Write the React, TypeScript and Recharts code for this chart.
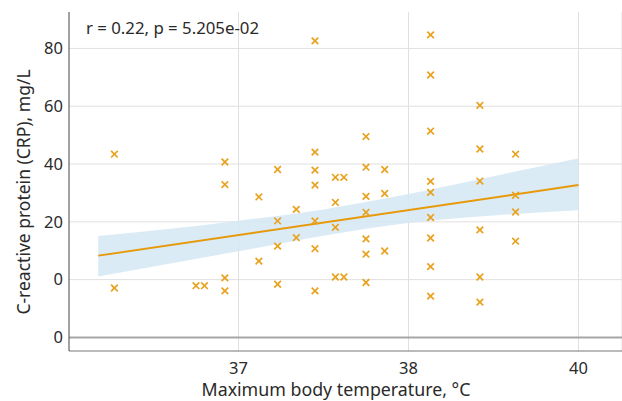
import { ComposedChart, Scatter, Line, Area, XAxis, YAxis, CartesianGrid, ReferenceLine } from 'recharts';

// temperature groups (display units) and CRP readings at each one
const tempLevels = [36.27, 36.75, 36.8, 36.92, 37.12, 37.23, 37.34, 37.45, 37.57, 37.62, 37.75, 37.86, 38.13, 38.42, 38.63];
const crpValues = [
  [43.4, -2.9],
  [-2.1],
  [-2.1],
  [40.7, 32.9, 0.6, -3.9],
  [28.6, 6.4],
  [38.1, 20.3, 11.6, -1.6],
  [24.3, 14.5],
  [82.6, 44.1, 37.9, 32.7, 20.3, 10.7, -3.9],
  [35.4, 26.7, 18.1, 0.9],
  [35.4, 0.9],
  [49.5, 38.9, 28.8, 23.3, 14.1, 8.8, -1.0],
  [38.1, 29.8, 9.9],
  [84.7, 70.8, 51.4, 34.0, 30.2, 21.5, 14.4, 4.5, -5.7],
  [60.3, 45.2, 34.1, 17.2, 0.9, -7.8],
  [43.4, 29.2, 23.4, 13.3],
];

const fitTemps = [36.175, 39];
const fitValues = [8.3, 32.7];

const bandTemps = [36.175, 36.6, 37, 37.5, 38, 38.5, 39];
const bandLower = [1.1, 5.6, 9.8, 15.2, 19.6, 22.2, 24.0];
const bandUpper = [15.1, 17.6, 20.4, 24.3, 29.6, 35.8, 42.0];

const xTicks = [37, 38, 39];
const xTickLabels = ['37', '38', '40'];
const yTicks = [-20, 0, 20, 40, 60, 80];
const yTickLabels = ['0', '0', '20', '40', '60', '80'];

const points = tempLevels.flatMap((t, i) => crpValues[i].map(v => ({ temp: t, crp: v })));
const fitData = fitTemps.map((t, i) => ({ temp: t, fit: fitValues[i] }));
const bandData = bandTemps.map((t, i) => ({ temp: t, range: [bandLower[i], bandUpper[i]] }));

const FONT = '"Noto Sans", sans-serif';
const ORANGE = '#E9A21F';

const Cross = (props: any) => {
  const { cx, cy } = props;
  const s = 3.3;
  return (
    <g stroke={ORANGE} strokeWidth={1.7}>
      <line x1={cx - s} y1={cy - s} x2={cx + s} y2={cy + s} />
      <line x1={cx - s} y1={cy + s} x2={cx + s} y2={cy - s} />
    </g>
  );
};

export default function App() {
  return (
    <div style={{ position: 'absolute', left: 0, top: 0, width: 622, height: 401, background: '#fff', fontFamily: FONT }}>
      <ComposedChart width={622} height={401} margin={{ top: 12, right: 0, left: 0, bottom: 0 }}>
        <CartesianGrid stroke="#e0e0e0" horizontalValues={[0, 20, 40, 60, 80]} />
        <XAxis
          type="number"
          dataKey="temp"
          domain={[36.003, 39.256]}
          ticks={xTicks}
          tickFormatter={(v: number) => xTickLabels[xTicks.indexOf(v)]}
          height={50}
          tickLine={false}
          tickMargin={5}
          stroke="#777"
          tick={{ fill: '#2a2a2a', fontSize: 16.5, fontFamily: FONT }}
          allowDataOverflow
        />
        <YAxis
          type="number"
          domain={[-24.7, 92.6]}
          ticks={yTicks}
          tickFormatter={(v: number) => yTickLabels[yTicks.indexOf(v)]}
          width={69}
          tickLine={false}
          tickSize={2}
          tickMargin={4}
          stroke="#555"
          tick={{ fill: '#2a2a2a', fontSize: 16.5, fontFamily: FONT }}
          allowDataOverflow
        />
        <ReferenceLine y={-20} stroke="#a6a6a6" strokeWidth={2} />
        <Area
          data={bandData}
          dataKey="range"
          type="monotone"
          stroke="none"
          fill="#D5E7F4"
          fillOpacity={0.85}
          isAnimationActive={false}
        />
        <Line
          data={fitData}
          dataKey="fit"
          type="linear"
          stroke="#E69A0A"
          strokeWidth={2}
          dot={false}
          isAnimationActive={false}
        />
        <Scatter data={points} dataKey="crp" shape={<Cross />} isAnimationActive={false} />
      </ComposedChart>
      <div style={{ position: 'absolute', left: 86, top: 16, fontSize: 16.8, color: '#2a2a2a', whiteSpace: 'nowrap' }}>
        r = 0.22, p = 5.205e-02
      </div>
      <div
        style={{
          position: 'absolute',
          left: 23,
          top: 192,
          fontSize: 17.5,
          color: '#2a2a2a',
          whiteSpace: 'nowrap',
          transform: 'translate(-50%, -50%) rotate(-90deg)',
        }}
      >
        C-reactive protein (CRP), mg/L
      </div>
      <div
        style={{
          position: 'absolute',
          left: 336,
          top: 389,
          fontSize: 17.8,
          color: '#2a2a2a',
          whiteSpace: 'nowrap',
          transform: 'translate(-50%, -50%)',
        }}
      >
        Maximum body temperature, °C
      </div>
    </div>
  );
}
